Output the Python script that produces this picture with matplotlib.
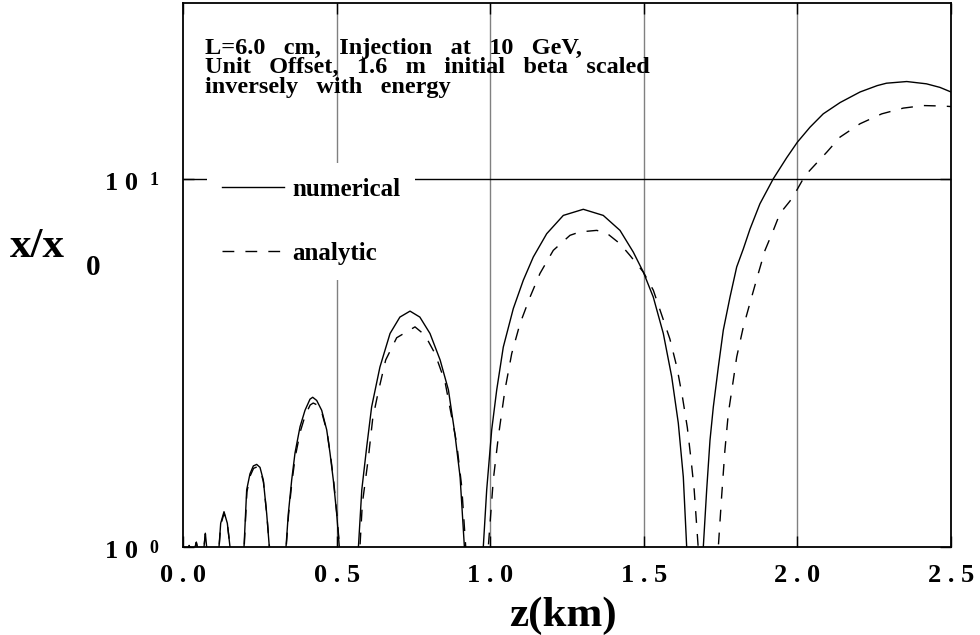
import matplotlib
matplotlib.use("Agg")
import matplotlib.pyplot as plt
from matplotlib.transforms import blended_transform_factory, offset_copy

# --- data ---
z_num = [0.0, 0.008, 0.018, 0.02, 0.022, 0.03, 0.039, 0.0434, 0.0466, 0.058,
         0.0684, 0.0727, 0.077, 0.097, 0.1172, 0.1227, 0.1335, 0.1443, 0.153, 0.176,
         0.1986, 0.2073, 0.218, 0.2289, 0.2399, 0.2507, 0.2614, 0.2725, 0.281, 0.308,
         0.3353, 0.3428, 0.3538, 0.3646, 0.3809, 0.3971, 0.4134, 0.4222, 0.4352, 0.4515,
         0.4678, 0.4785, 0.4893, 0.5003, 0.5088, 0.54, 0.571, 0.582, 0.598, 0.614,
         0.641, 0.674, 0.706, 0.739, 0.771, 0.804, 0.837, 0.864, 0.885, 0.902,
         0.916, 0.946, 0.9775, 0.9886, 1.0049, 1.0212, 1.0426, 1.0752, 1.1077, 1.1403,
         1.1839, 1.238, 1.303, 1.368, 1.4225, 1.4658, 1.4984, 1.5309, 1.5635, 1.5908,
         1.6123, 1.6286, 1.6396, 1.667, 1.6937, 1.7047, 1.7155, 1.7263, 1.7426, 1.7588,
         1.7806, 1.8024, 1.824, 1.8457, 1.878, 1.9216, 1.965, 2.0, 2.041, 2.084,
         2.139, 2.204, 2.26, 2.29, 2.356, 2.42, 2.464, 2.5]
x_num = [1.0, 0.1, 1.0, 1.01, 1.0, 0.1, 1.0, 1.03, 1.0, 0.1,
         1.0, 1.09, 1.0, 0.1, 1.0, 1.16, 1.247, 1.16, 1.0, 0.1,
         1.0, 1.43, 1.58, 1.66, 1.676, 1.645, 1.52, 1.23, 1.0, 0.1,
         1.0, 1.23, 1.52, 1.80, 2.12, 2.35, 2.52, 2.55, 2.50, 2.35,
         2.08, 1.80, 1.52, 1.23, 1.0, 0.1, 1.0, 1.43, 1.87, 2.40,
         3.08, 3.80, 4.21, 4.37, 4.21, 3.80, 3.22, 2.67, 2.03, 1.55,
         1.0, 0.1, 1.0, 1.43, 2.08, 2.67, 3.49, 4.44, 5.30, 6.13,
         7.09, 7.95, 8.26, 7.95, 7.24, 6.32, 5.58, 4.77, 3.80, 2.90,
         2.17, 1.55, 1.0, 0.1, 1.0, 1.43, 1.95, 2.40, 3.08, 3.88,
         4.77, 5.76, 6.45, 7.3, 8.55, 10.0, 11.4, 12.57, 13.8, 15.0,
         16.1, 17.2, 17.9, 18.17, 18.36, 18.1, 17.7, 17.2]

z_ana = [0.0, 0.008, 0.018, 0.02, 0.022, 0.03, 0.039, 0.0434, 0.0466, 0.058,
         0.0684, 0.0727, 0.077, 0.097, 0.1175, 0.123, 0.1338, 0.1446, 0.1535, 0.176,
         0.1992, 0.208, 0.2187, 0.2296, 0.2406, 0.2514, 0.262, 0.273, 0.2815, 0.308,
         0.336, 0.3435, 0.3545, 0.3655, 0.382, 0.398, 0.414, 0.424, 0.437, 0.453,
         0.469, 0.48, 0.4905, 0.5012, 0.5095, 0.54, 0.576, 0.5837, 0.6032, 0.6175,
         0.6357, 0.6598, 0.6956, 0.7552, 0.7878, 0.8203, 0.8529, 0.891, 0.9072, 0.9203,
         0.957, 0.9938, 1.010, 1.0264, 1.048, 1.070, 1.097, 1.1296, 1.162, 1.2054,
         1.2598, 1.292, 1.3467, 1.379, 1.4225, 1.455, 1.4984, 1.531, 1.554, 1.585,
         1.608, 1.6266, 1.6417, 1.654, 1.664, 1.677, 1.71, 1.7426, 1.7533, 1.764,
         1.775, 1.7914, 1.8024, 1.824, 1.851, 1.8727, 1.8945, 1.9216, 1.943, 1.976,
         1.9977, 2.025, 2.057, 2.0954, 2.1387, 2.2038, 2.2744, 2.3447, 2.41, 2.475, 2.5]
x_ana = [1.0, 0.1, 1.0, 1.01, 1.0, 0.1, 1.0, 1.03, 1.0, 0.1,
         1.0, 1.085, 1.0, 0.1, 1.0, 1.15, 1.235, 1.15, 1.0, 0.1,
         1.0, 1.41, 1.56, 1.635, 1.65, 1.62, 1.50, 1.22, 1.0, 0.1,
         1.0, 1.22, 1.50, 1.76, 2.06, 2.28, 2.43, 2.46, 2.43, 2.30,
         2.05, 1.78, 1.51, 1.22, 1.0, 0.1, 1.0, 1.31, 1.74, 2.23,
         2.64, 3.22, 3.70, 3.96, 3.76, 3.35, 2.81, 1.91, 1.46, 1.0,
         0.1, 1.0, 1.52, 1.99, 2.67, 3.35, 4.04, 4.77, 5.53, 6.39,
         7.02, 7.17, 7.24, 7.12, 6.66, 6.19, 5.58, 4.98, 4.37, 3.67,
         3.07, 2.53, 2.11, 1.72, 1.43, 1.0, 0.1, 1.0, 1.37, 1.83,
         2.30, 2.84, 3.28, 3.96, 4.77, 5.53, 6.39, 7.24, 8.04, 8.7,
         9.3, 10.2, 10.9, 11.8, 12.97, 14.1, 15.0, 15.55, 15.8, 15.75, 15.7]

x_ticks = [0.0, 0.5, 1.0, 1.5, 2.0, 2.5]
x_tick_labels = ["0 . 0", "0 . 5", "1 . 0", "1 . 5", "2 . 0", "2 . 5"]
y_ticks = [1, 10]
y_tick_exps = ["0", "1"]

note = ("L=6.0   cm,   Injection   at   10   GeV,\n"
        "Unit   Offset,   1.6   m   initial   beta   scaled\n"
        "inversely   with   energy")

serif = "Liberation Serif"

fig = plt.figure(figsize=(9.8, 6.35), dpi=100)
ax = fig.add_axes([183 / 980, 88 / 635, 768 / 980, 544 / 635])

ax.set_yscale("log")
ax.set_xlim(0, 2.5)
ax.set_ylim(1, 30)

# grid: gray verticals, black line at 10^1
for xv in x_ticks[1:-1]:
    ax.axvline(xv, color="#808080", lw=1.0, zorder=1)
ax.axhline(10, color="black", lw=1.0, zorder=1)

ax.plot(z_num, x_num, color="black", lw=1.0, label="numerical", zorder=3)
ax.plot(z_ana, x_ana, color="black", lw=1.0, linestyle=(0, (8.5, 8)),
        label="analytic", zorder=3)

ax.minorticks_off()
ax.set_xticks(x_ticks)
ax.set_xticklabels(x_tick_labels, fontfamily=serif, fontweight="bold", fontsize=19)
ax.set_yticks(y_ticks)
ax.set_yticklabels(["", ""])
ax.tick_params(axis="both", direction="in", length=8, width=1.0, color="black",
               top=True, right=True, pad=12)
ax.tick_params(axis="y", pad=0)
for s in ax.spines.values():
    s.set_linewidth(1.3)

# y tick labels: "1 0" with superscript exponent
tr = blended_transform_factory(ax.transAxes, ax.transData)
for yv, ex in zip(y_ticks, y_tick_exps):
    ax.text(-0.058, yv, "1 0", transform=offset_copy(tr, fig=fig, y=-11, units="dots"),
            ha="right", va="baseline", fontfamily=serif, fontweight="bold", fontsize=19,
            clip_on=False)
    ax.text(-0.044, yv, ex, transform=offset_copy(tr, fig=fig, y=-6, units="dots"),
            ha="left", va="baseline", fontfamily=serif, fontweight="bold", fontsize=13,
            clip_on=False)

ax.text(0.028, 0.935, note, transform=ax.transAxes, ha="left", va="top",
        fontfamily=serif, fontweight="bold", fontsize=17.5, linespacing=0.88, zorder=5)

leg = ax.legend(loc="upper left", bbox_to_anchor=(0.031, 0.706), borderaxespad=0,
                frameon=True, framealpha=1, edgecolor="none", facecolor="white",
                fancybox=False, handlelength=2.5, handletextpad=0.32, labelspacing=1.64,
                borderpad=0.6, prop={"family": serif, "weight": "bold", "size": 18})
leg.set_zorder(4)

fig.text(10 / 980, 1 - 257 / 635, "x/x", ha="left", va="baseline",
         fontfamily=serif, fontweight="bold", fontsize=31)
fig.text(86 / 980, 1 - 275 / 635, "0", ha="left", va="baseline",
         fontfamily=serif, fontweight="bold", fontsize=21)
fig.text(563 / 980, 1 - 626 / 635, "z(km)", ha="center", va="baseline",
         fontfamily=serif, fontweight="bold", fontsize=31)

fig.savefig("out.png", dpi=100, facecolor="white")
